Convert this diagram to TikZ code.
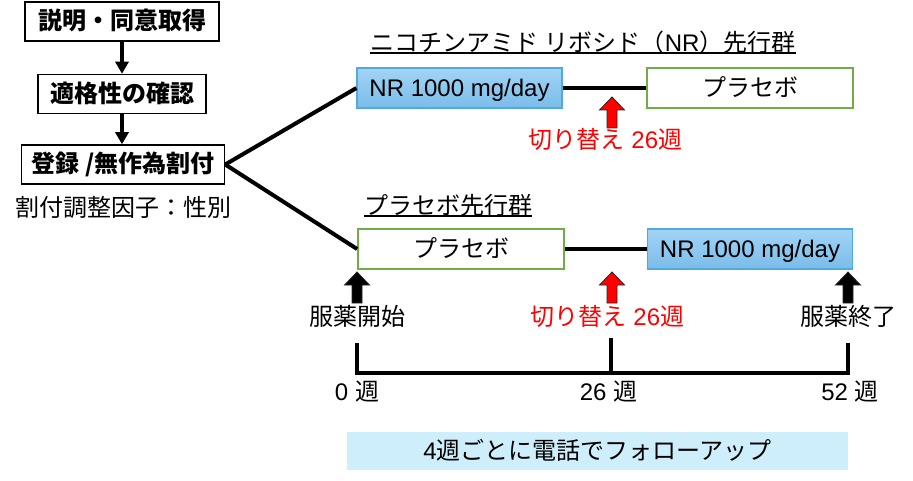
\documentclass[tikz,border=0pt]{standalone}
\usepackage{fontspec}
\setmainfont{Liberation Sans}
\newfontfamily\jp{Noto Sans CJK JP}
\usetikzlibrary{arrows.meta}
\definecolor{nrtop}{RGB}{162,212,245}
\definecolor{nrbot}{RGB}{122,188,234}
\definecolor{nrdraw}{RGB}{80,170,222}
\definecolor{plgreen}{RGB}{112,173,71}
\definecolor{fubox}{RGB}{205,238,250}
\definecolor{swred}{RGB}{255,0,0}
\tikzset{
  txt/.style={font=\fontsize{24}{28}\selectfont, inner sep=0pt, text height=20pt, text depth=3pt},
  jptxt/.style={txt, font=\jp\fontsize{24}{28}\selectfont},
  stepbox/.style={txt, draw=black, line width=1.5pt, font=\jp\bfseries\fontsize{24}{28}\selectfont, minimum height=39pt},
  nrbox/.style={txt, draw=nrdraw, line width=1.2pt, top color=nrtop, bottom color=nrbot, minimum width=205pt, minimum height=40pt},
  plbox/.style={txt, draw=plgreen, line width=1.8pt, fill=white, minimum width=206pt, minimum height=40pt},
  fubx/.style={txt, fill=fubox, minimum width=501pt, minimum height=38pt},
  flow/.style={line width=3.5pt, -{Triangle[length=12pt,width=13pt]}},
  link/.style={line width=4pt},
  axisline/.style={line width=4.5pt},
  uline/.style={line width=1.4pt},
  pics/uparr/.style={code={
    \filldraw[fill=#1, draw=black!85, line width=0.8pt]
      (0,0) -- (12.5,13) -- (5,13) -- (5,31) -- (-5,31) -- (-5,13) -- (-12.5,13) -- cycle;}}
}
\begin{document}
\begin{tikzpicture}[x=1pt,y=-1pt]
\useasboundingbox (0,0) rectangle (913,481);
% left flow
\node[stepbox, minimum width=194pt] (s1) at (122,21.5) {説明・同意取得};
\node[stepbox, minimum width=168pt] (s2) at (122,94) {適格性の確認};
\node[stepbox, minimum width=203pt] (s3) at (123,164.5) {登録 /無作為割付};
\draw[flow] (s1.south -| 122,0) -- (s2.north -| 122,0);
\draw[flow] (s2.south -| 122,0) -- (s3.north -| 122,0);
\node[jptxt] (fac) at (123.5,208.5) {割付調整因子：性別};

% group 1
\node[txt] (t1) at (583,43) {{\jp ニコチンアミド} {\jp リボシド（}NR{\jp ）先行群}};
\draw[uline] ([yshift=1.5pt]t1.south west) -- ([yshift=1.5pt]t1.south east);
\node[nrbox] (nr1) at (459.5,88) {NR 1000 mg/day};
\node[plbox] (pl1) at (750,88) {\jp プラセボ};
\draw[link] (nr1) -- (pl1);
\pic at (612,97) {uparr=swred};
\node[txt, text=swred] (sw1) at (605.5,140) {{\jp 切り替え} 26{\jp 週}};

% group 2
\node[jptxt] (t2) at (448,206) {プラセボ先行群};
\draw[uline] ([yshift=1.5pt]t2.south west) -- ([yshift=1.5pt]t2.south east);
\node[plbox] (pl2) at (461,249) {\jp プラセボ};
\node[nrbox] (nr2) at (750,249) {NR 1000 mg/day};
\draw[link] (pl2) -- (nr2);

% randomisation links
\draw[link] (s3.east) -- (nr1.west);
\draw[link] (s3.east) -- (pl2.west);

% arrows below group 2
\pic at (357,272) {uparr=black};
\pic at (612,272) {uparr=swred};
\pic at (848,272) {uparr=black};
\node[jptxt] (start) at (357,317) {服薬開始};
\node[txt, text=swred] (sw2) at (607.5,316.5) {{\jp 切り替え} 26{\jp 週}};
\node[jptxt] (stop) at (848.5,317) {服薬終了};

% timeline
\coordinate (a0) at (357,343);
\coordinate (a1) at (848,343);
\coordinate (m0) at (611,338);
\coordinate (m1) at (611,373);
\draw[axisline] (a0) |- (m1) -| (a1);
\draw[axisline] (m0) -- (m1);
\node[txt] (w0) at (357,391.5) {0 {\jp 週}};
\node[txt] (w26) at (608.5,391.5) {26 {\jp 週}};
\node[txt] (w52) at (850,391.5) {52 {\jp 週}};

% follow-up
\node[fubx] (fu) at (597.5,451) {4{\jp 週ごとに電話でフォローアップ}};
\end{tikzpicture}
\end{document}
